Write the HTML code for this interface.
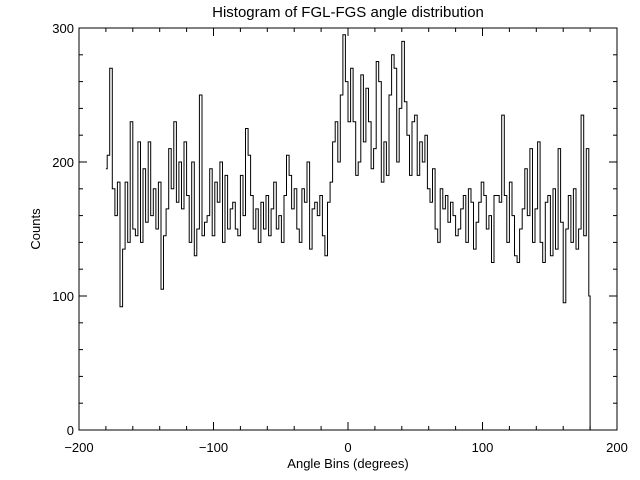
<!DOCTYPE html>
<html><head><meta charset="utf-8"><style>
html,body{margin:0;padding:0;background:#fff;}
svg{display:block;font-family:"Liberation Sans",sans-serif;}
</style></head><body>
<svg id="chart" width="640" height="480" viewBox="0 0 640 480">
<rect width="640" height="480" fill="#fff"/>
<text x="348" y="17" font-size="15" text-anchor="middle">Histogram of FGL-FGS angle distribution</text>
<text x="348" y="468" font-size="13" text-anchor="middle">Angle Bins (degrees)</text>
<text x="40" y="229" font-size="13" text-anchor="middle" transform="rotate(-90 40 229)">Counts</text>
<g id="axes"></g>
<path id="series" fill="none" stroke="#000" stroke-width="1"/>
</svg>
<script>
const xTicks=[-200,-100,0,100,200];
const yTicks=[0,100,200,300];
const seg1=[195,205,270,180,160,185,92,135,185,140,230,150,145,215,140,195,155,215,160,180,150,185,105,145,165,210,180,230,170,200,165,215,175,140,200,130,150,250,145,155];
const seg2=[160,195,145,185,170,200,140,190,150,165,170,150,145,190,160,225,205,175,150,165,140,170,150,175,145,165,185,150,160,140,175,205,190,165,180,150,140,180,170,200,135,165,170,160,175,145,130,170];
const seg3=[185,215,230,200,250,295,260,230,270,230,190,200,265,215,255,230,195,210,275,260,185,215,190,250,280,270,200,240,290,245,220,190,230,235];
const seg4=[190,215,200,220,180,170,195,150,140,180,165,175,155,170,160,145,150,165,175,140,180,170,135,155,170,185,175,150];
const seg5=[160,125,175,175,170,235,175,140,185,160,130,125,150,165,195,160,210,140,165,215,140,125,170,175,130,180,135,210,155,95,150,175,140,180,135,150,235,145,210,100];
const counts=seg1.concat(seg2,seg3,seg4,seg5);
const xMin=-200,xMax=200,yMin=0,yMax=300;
const L=79,R=617,T=28,B=430;
function sx(v){return L+(v-xMin)/(xMax-xMin)*(R-L);}
function sy(v){return B-(v-yMin)/(yMax-yMin)*(B-T);}
const NS="http://www.w3.org/2000/svg";
const ax=document.getElementById('axes');
function mk(tag,attrs){const e=document.createElementNS(NS,tag);for(const k in attrs)e.setAttribute(k,attrs[k]);ax.appendChild(e);return e;}
const box=mk('rect',{x:L,y:T,width:R-L,height:B-T,fill:'none',stroke:'#000','stroke-width':1});


for(let v=xMin;v<=xMax;v+=20){
  const major=xTicks.includes(v);const len=major?8:4;
  const t1=mk('line',{x1:sx(v),x2:sx(v),y1:B,y2:B-len,stroke:'#000'});
  
  
  const t2=mk('line',{x1:sx(v),x2:sx(v),y1:T,y2:T+len,stroke:'#000'});
  
  
}
xTicks.forEach(v=>{
  const t=mk('text',{x:sx(v),y:452,'font-size':13,'text-anchor':'middle'});
  t.textContent=(v<0?'\u2212':'')+Math.abs(v);
  
  
});
for(let v=yMin;v<=yMax;v+=20){
  const major=yTicks.includes(v);const len=major?8:4;
  const t1=mk('line',{x1:L,x2:L+len,y1:sy(v),y2:sy(v),stroke:'#000'});
  
  
  const t2=mk('line',{x1:R,x2:R-len,y1:sy(v),y2:sy(v),stroke:'#000'});
  
  
}
yTicks.forEach(v=>{
  const t=mk('text',{x:74,y:sy(v)+5,'font-size':13,'text-anchor':'end'});
  t.textContent=v;
  
  
});
const n=counts.length,x0=-180,x1=180,w=(x1-x0)/(n-1);
let d='';
counts.forEach((c,i)=>{
  const xc=x0+i*w;
  const a=sx(Math.max(x0,xc-w/2)),b=sx(Math.min(x1,xc+w/2));
  d+=(i===0?'M':'L')+a.toFixed(1)+' '+sy(c).toFixed(1)+' L'+b.toFixed(1)+' '+sy(c).toFixed(1)+' ';
});
d+='L'+sx(x1).toFixed(1)+' '+sy(0).toFixed(1);
document.getElementById('series').setAttribute('d',d);
</script>
</body></html>
